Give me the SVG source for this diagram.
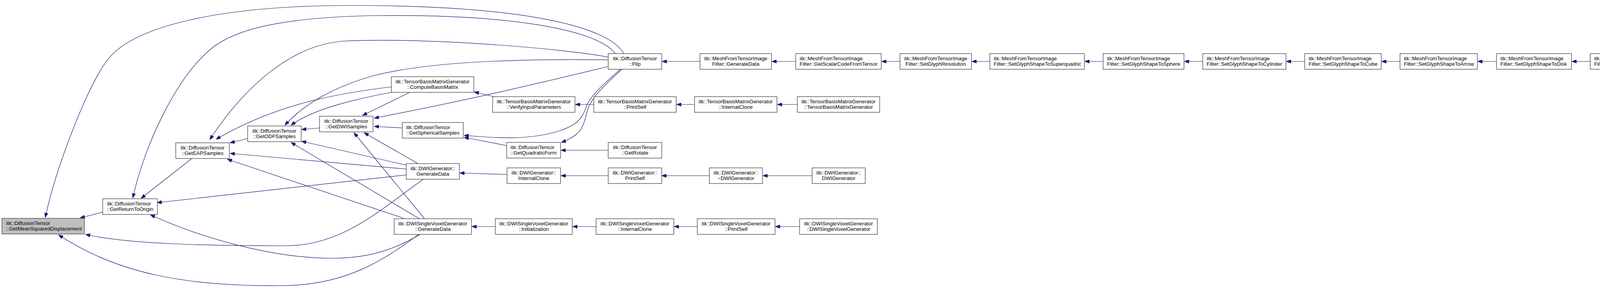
<svg xmlns="http://www.w3.org/2000/svg" width="4771" height="736" viewBox="0 0 4771 736">
<style>
.node rect{fill:#ffffff;stroke:#404040;stroke-width:1.3}
.node.hl rect{fill:#bfbfbf}
.node text{font-family:"Liberation Sans",Arial,Helvetica,sans-serif;font-size:13.33px;fill:#000000}
.node text.c{text-anchor:middle}
.edges path{fill:none;stroke:#191970;stroke-width:1.2;marker-end:url(#ah)}
</style>
<defs>
<marker id="ah" markerWidth="12" markerHeight="9" refX="12" refY="4.5" orient="auto" markerUnits="userSpaceOnUse">
<path d="M0,0 L12,4.5 L0,9 z" fill="#191970" stroke="#191970" stroke-width="1"/>
</marker>
</defs>
<rect x="0" y="0" width="4771" height="736" fill="#ffffff"/>
<g class="edges">
<path d="M263,542 L205,557"/>
<path d="M1597,137 C1560,70 1350,14 900,14 C550,14 330,70 270,160 C215,240 140,440 116,556"/>
<path d="M1575,137 C1530,75 1300,35 950,40 C720,45 600,75 540,125 C450,200 370,370 340,506"/>
<path d="M491,405 L361,507"/>
<path d="M1040,447 L402,518"/>
<path d="M1076,599 C1020,630 960,660 850,660 C700,660 520,610 385,549"/>
<path d="M1084,458 C980,530 880,628 733,628 C550,628 330,625 219,599"/>
<path d="M1072,599 C1000,650 900,730 720,730 C480,732 300,700 150,600"/>
<path d="M634,354 L589,365"/>
<path d="M1040,432 L589,392"/>
<path d="M1034,558 L582,407"/>
<path d="M1557,146 C1450,125 1100,95 880,105 C740,115 620,230 537,357"/>
<path d="M1002,222 C850,240 700,270 553,356"/>
<path d="M818,327 L772,331"/>
<path d="M1040,422 L772,361"/>
<path d="M1072,558 L745,364"/>
<path d="M1557,153 C1350,150 1100,155 950,195 C850,225 780,265 729,320"/>
<path d="M1002,236 C900,255 800,280 745,320"/>
<path d="M1086,558 L906,339"/>
<path d="M1070,418 L932,339"/>
<path d="M1557,170 C1350,220 1200,255 958,302"/>
<path d="M1030,327 L958,323"/>
<path d="M1049,236 L928,295"/>
<path d="M1265,247 L1214,235"/>
<path d="M1588,177 C1545,215 1510,245 1500,275 C1488,310 1470,322 1430,335 C1350,360 1260,352 1188,346"/>
<path d="M1592,177 C1550,215 1512,250 1503,285 C1493,325 1488,345 1437,364"/>
<path d="M1297,372 L1188,351"/>
<path d="M1557,384 L1436,384"/>
<path d="M1520,267 L1473,267"/>
<path d="M1298,446 L1177,442"/>
<path d="M1557,449 L1436,449"/>
<path d="M1816,449 L1694,449"/>
<path d="M2079,449 L1953,449"/>
<path d="M1268,579 L1208,579"/>
<path d="M1526,579 L1466,579"/>
<path d="M1785,579 L1726,579"/>
<path d="M2047,579 L1985,579"/>
<path d="M1778,267 L1732,267"/>
<path d="M2041,267 L1990,267"/>
<path d="M1792,157 L1695,157"/>
<path d="M2037,157 L1976,157"/>
<path d="M2304,157 L2257,157"/>
<path d="M2534,157 L2488,157"/>
<path d="M2824,157 L2777,157"/>
<path d="M3079,157 L3032,157"/>
<path d="M3340,157 L3293,157"/>
<path d="M3584,157 L3537,157"/>
<path d="M3831,157 L3783,157"/>
<path d="M4071,157 L4024,157"/>
<path d="M4308,157 L4261,157"/>
<path d="M4539,157 L4491,157"/>
</g>
<g id="n0" class="node hl"><rect x="5" y="558" width="211" height="40"/><text x="16" y="575">itk::DiffusionTensor</text><text x="16" y="589">::GetMeanSquaredDisplacement</text></g>
<g id="n1" class="node"><rect x="263" y="508" width="140" height="40"/><text x="274" y="525">itk::DiffusionTensor</text><text x="274" y="539">::GetReturnToOrigin</text></g>
<g id="n2" class="node"><rect x="450" y="365" width="137" height="40"/><text class="c" x="518.5" y="382">itk::DiffusionTensor</text><text class="c" x="518.5" y="396">::GetEAPSamples</text></g>
<g id="n3" class="node"><rect x="634" y="322" width="137" height="40"/><text class="c" x="702.5" y="339">itk::DiffusionTensor</text><text class="c" x="702.5" y="353">::GetODFSamples</text></g>
<g id="n4" class="node"><rect x="818" y="297" width="137" height="40"/><text class="c" x="886.5" y="314">itk::DiffusionTensor</text><text class="c" x="886.5" y="328">::GetDWISamples</text></g>
<g id="n5" class="node"><rect x="1002" y="196" width="211" height="40"/><text class="c" x="1107.5" y="213">itk::TensorBasisMatrixGenerator</text><text class="c" x="1107.5" y="227">::ComputeBasisMatrix</text></g>
<g id="n6" class="node"><rect x="1030" y="313" width="156" height="40"/><text x="1040" y="330">itk::DiffusionTensor</text><text x="1040" y="344">::GetSphericalSamples</text></g>
<g id="n7" class="node"><rect x="1040" y="418" width="136" height="40"/><text class="c" x="1108" y="435">itk::DWIGenerator::</text><text class="c" x="1108" y="449">GenerateData</text></g>
<g id="n8" class="node"><rect x="1009" y="559" width="198" height="40"/><text class="c" x="1108" y="576">itk::DWISingleVoxelGenerator</text><text class="c" x="1108" y="590">::GenerateData</text></g>
<g id="n9" class="node"><rect x="1557" y="137" width="137" height="40"/><text class="c" x="1625.5" y="154">itk::DiffusionTensor</text><text class="c" x="1625.5" y="168">::Flip</text></g>
<g id="n10" class="node"><rect x="1261" y="247" width="211" height="40"/><text class="c" x="1366.5" y="264">itk::TensorBasisMatrixGenerator</text><text class="c" x="1366.5" y="278">::VerifyInputParameters</text></g>
<g id="n11" class="node"><rect x="1297" y="364" width="138" height="40"/><text x="1307" y="381">itk::DiffusionTensor</text><text x="1307" y="395">::GetQuadraticForm</text></g>
<g id="n12" class="node"><rect x="1298" y="429" width="137" height="40"/><text class="c" x="1366.5" y="446">itk::DWIGenerator::</text><text class="c" x="1366.5" y="460">InternalClone</text></g>
<g id="n13" class="node"><rect x="1268" y="559" width="197" height="40"/><text class="c" x="1366.5" y="576">itk::DWISingleVoxelGenerator</text><text class="c" x="1366.5" y="590">::Initialization</text></g>
<g id="n14" class="node"><rect x="1520" y="247" width="211" height="40"/><text class="c" x="1625.5" y="264">itk::TensorBasisMatrixGenerator</text><text class="c" x="1625.5" y="278">::PrintSelf</text></g>
<g id="n15" class="node"><rect x="1557" y="364" width="137" height="40"/><text class="c" x="1625.5" y="381">itk::DiffusionTensor</text><text class="c" x="1625.5" y="395">::GetRotate</text></g>
<g id="n16" class="node"><rect x="1557" y="429" width="137" height="40"/><text class="c" x="1625.5" y="446">itk::DWIGenerator::</text><text class="c" x="1625.5" y="460">PrintSelf</text></g>
<g id="n17" class="node"><rect x="1526" y="559" width="199" height="40"/><text class="c" x="1625.5" y="576">itk::DWISingleVoxelGenerator</text><text class="c" x="1625.5" y="590">::InternalClone</text></g>
<g id="n18" class="node"><rect x="1792" y="137" width="183" height="40"/><text class="c" x="1883.5" y="154">itk::MeshFromTensorImage</text><text class="c" x="1883.5" y="168">Filter::GenerateData</text></g>
<g id="n19" class="node"><rect x="1778" y="247" width="211" height="40"/><text class="c" x="1883.5" y="264">itk::TensorBasisMatrixGenerator</text><text class="c" x="1883.5" y="278">::InternalClone</text></g>
<g id="n20" class="node"><rect x="1816" y="429" width="136" height="40"/><text class="c" x="1884" y="446">itk::DWIGenerator::</text><text class="c" x="1884" y="460">~DWIGenerator</text></g>
<g id="n21" class="node"><rect x="1785" y="559" width="199" height="40"/><text class="c" x="1884.5" y="576">itk::DWISingleVoxelGenerator</text><text class="c" x="1884.5" y="590">::PrintSelf</text></g>
<g id="n22" class="node"><rect x="2037" y="137" width="219" height="40"/><text x="2047" y="154">itk::MeshFromTensorImage</text><text x="2047" y="168">Filter::GetScalarCodeFromTensor</text></g>
<g id="n23" class="node"><rect x="2041" y="247" width="211" height="40"/><text class="c" x="2146.5" y="264">itk::TensorBasisMatrixGenerator</text><text class="c" x="2146.5" y="278">::TensorBasisMatrixGenerator</text></g>
<g id="n24" class="node"><rect x="2079" y="429" width="136" height="40"/><text class="c" x="2147" y="446">itk::DWIGenerator::</text><text class="c" x="2147" y="460">DWIGenerator</text></g>
<g id="n25" class="node"><rect x="2047" y="559" width="199" height="40"/><text class="c" x="2146.5" y="576">itk::DWISingleVoxelGenerator</text><text class="c" x="2146.5" y="590">::DWISingleVoxelGenerator</text></g>
<g id="n26" class="node"><rect x="2304" y="137" width="183" height="40"/><text class="c" x="2395.5" y="154">itk::MeshFromTensorImage</text><text class="c" x="2395.5" y="168">Filter::SetGlyphResolution</text></g>
<g id="n27" class="node"><rect x="2534" y="137" width="242" height="40"/><text x="2544" y="154">itk::MeshFromTensorImage</text><text x="2544" y="168">Filter::SetGlyphShapeToSuperquadric</text></g>
<g id="n28" class="node"><rect x="2824" y="137" width="207" height="40"/><text x="2834" y="154">itk::MeshFromTensorImage</text><text x="2834" y="168">Filter::SetGlyphShapeToSphere</text></g>
<g id="n29" class="node"><rect x="3079" y="137" width="213" height="40"/><text x="3089" y="154">itk::MeshFromTensorImage</text><text x="3089" y="168">Filter::SetGlyphShapeToCylinder</text></g>
<g id="n30" class="node"><rect x="3340" y="137" width="196" height="40"/><text x="3350" y="154">itk::MeshFromTensorImage</text><text x="3350" y="168">Filter::SetGlyphShapeToCube</text></g>
<g id="n31" class="node"><rect x="3584" y="137" width="198" height="40"/><text x="3594" y="154">itk::MeshFromTensorImage</text><text x="3594" y="168">Filter::SetGlyphShapeToArrow</text></g>
<g id="n32" class="node"><rect x="3831" y="137" width="192" height="40"/><text x="3841" y="154">itk::MeshFromTensorImage</text><text x="3841" y="168">Filter::SetGlyphShapeToDisk</text></g>
<g id="n33" class="node"><rect x="4071" y="137" width="189" height="40"/><text x="4081" y="154">itk::MeshFromTensorImage</text><text x="4081" y="168">Filter::SetGlyphShapeToLine</text></g>
<g id="n34" class="node"><rect x="4308" y="137" width="182" height="40"/><text class="c" x="4399" y="154">itk::MeshFromTensorImage</text><text class="c" x="4399" y="168">Filter::SetGlyphShape</text></g>
<g id="n35" class="node"><rect x="4539" y="137" width="226" height="40"/><text x="4549" y="154">itk::MeshFromTensorImage</text><text x="4549" y="168">Filter::MeshFromTensorImageFilter</text></g>
</svg>
